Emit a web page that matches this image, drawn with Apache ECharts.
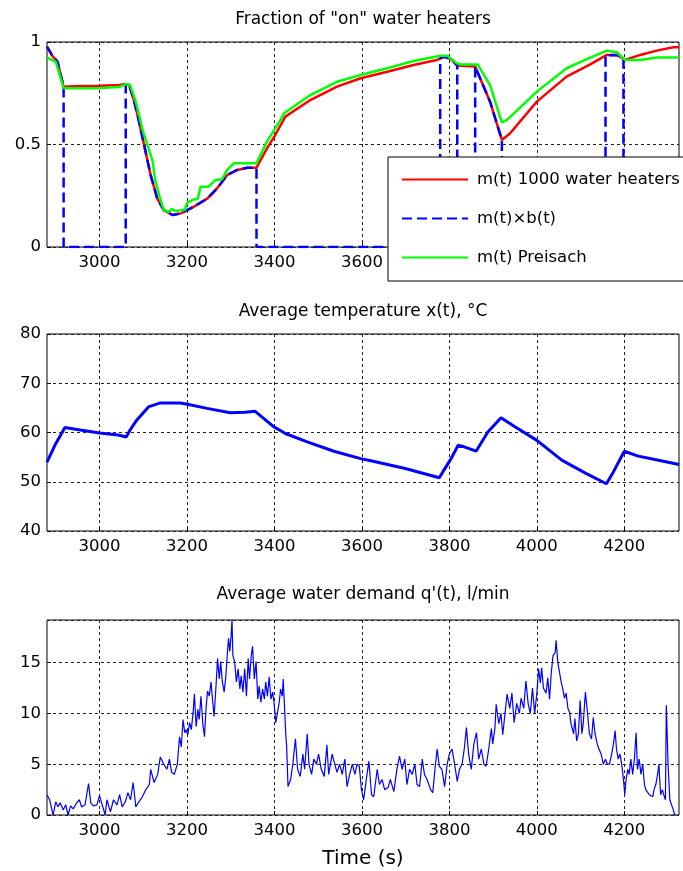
<!DOCTYPE html>
<html><head><meta charset="utf-8">
<script src="https://cdn.jsdelivr.net/npm/echarts@6/dist/echarts.min.js"></script>
<style>html,body{margin:0;padding:0;background:#fff}#c{width:683px;height:871px}</style>
</head><body><div id="c"></div>
<script>
// ---- data ----
const xTicks = [3000, 3200, 3400, 3600, 3800, 4000, 4200];
const titles = ['Fraction of "on" water heaters', 'Average temperature x(t), \u00B0C', "Average water demand q'(t), l/min"];
const legendNames = ['m(t) 1000 water heaters', 'm(t)\u00D7b(t)', 'm(t) Preisach'];

// m(t), 1000 water heaters [time, fraction]
const mHeaters = [[2880,0.977],[2893,0.93],[2904,0.904],[2918,0.782],[2960,0.785],[3000,0.787],[3045,0.79],[3060,0.795],[3068,0.79],[3078,0.72],[3087,0.644],[3102,0.498],[3117,0.351],[3132,0.237],[3147,0.18],[3167,0.156],[3186,0.164],[3216,0.197],[3247,0.237],[3269,0.286],[3292,0.351],[3315,0.376],[3338,0.387],[3359,0.387],[3383,0.481],[3400,0.54],[3425,0.636],[3482,0.717],[3543,0.782],[3597,0.823],[3658,0.855],[3718,0.888],[3771,0.912],[3787,0.928],[3800,0.92],[3806,0.912],[3818,0.885],[3821,0.88],[3859,0.88],[3893,0.709],[3920,0.522],[3939,0.555],[4000,0.709],[4068,0.831],[4122,0.891],[4160,0.937],[4183,0.937],[4202,0.912],[4236,0.937],[4274,0.958],[4312,0.974],[4325,0.974]];

// m(t) x b(t) [time, value]
const mTimesB = [[2880,0.977],[2893,0.93],[2904,0.904],[2918,0.782],[2918,0],[3060,0],[3060,0.795],[3068,0.79],[3078,0.72],[3087,0.644],[3102,0.498],[3117,0.351],[3132,0.237],[3147,0.18],[3167,0.156],[3186,0.164],[3216,0.197],[3247,0.237],[3269,0.286],[3292,0.351],[3315,0.376],[3338,0.387],[3359,0.387],[3359,0],[3779,0],[3779,0.92],[3787,0.928],[3800,0.92],[3806,0.912],[3818,0.885],[3818,0],[3859,0],[3859,0.88],[3893,0.709],[3920,0.522],[3920,0],[4157,0],[4157,0.935],[4183,0.937],[4198,0.915],[4198,0],[4325,0]];

// m(t) Preisach [time, fraction]
const mPreisach = [[2880,0.924],[2900,0.904],[2918,0.775],[3000,0.775],[3045,0.78],[3060,0.795],[3070,0.79],[3083,0.709],[3100,0.56],[3121,0.424],[3128,0.32],[3137,0.25],[3147,0.18],[3159,0.172],[3165,0.185],[3175,0.175],[3186,0.18],[3195,0.18],[3200,0.215],[3212,0.229],[3225,0.235],[3231,0.294],[3250,0.294],[3265,0.327],[3280,0.33],[3292,0.376],[3307,0.408],[3359,0.408],[3383,0.514],[3414,0.62],[3422,0.652],[3482,0.741],[3543,0.806],[3597,0.839],[3658,0.872],[3718,0.907],[3779,0.933],[3795,0.933],[3817,0.896],[3825,0.89],[3865,0.89],[3893,0.79],[3920,0.608],[3932,0.62],[4000,0.758],[4068,0.872],[4122,0.924],[4160,0.958],[4183,0.95],[4202,0.912],[4236,0.912],[4274,0.924],[4325,0.924]];

// average temperature [time, degC]
const avgTemp = [[2880,54.0],[2898,57.4],[2921,61.0],[2956,60.5],[3000,59.9],[3043,59.5],[3061,59.1],[3070,60.5],[3085,62.5],[3112,65.2],[3139,66.0],[3185,66.0],[3198,65.8],[3246,64.9],[3299,64.0],[3333,64.1],[3356,64.3],[3398,61.2],[3425,59.8],[3475,58.1],[3536,56.2],[3597,54.7],[3623,54.2],[3699,52.7],[3777,50.8],[3785,52.0],[3804,54.7],[3820,57.4],[3834,57.1],[3861,56.2],[3888,60.1],[3918,63.0],[3949,61.2],[4000,58.4],[4057,54.4],[4110,51.8],[4159,49.6],[4175,52.0],[4200,56.2],[4232,55.2],[4270,54.5],[4325,53.5]];

// average water demand [time, l/min]
const avgDemand = [[2880,2.0],[2886,1.5],[2894,0],[2900,1.3],[2905,0.8],[2910,1.2],[2917,0.5],[2923,1.0],[2928,0],[2934,0.9],[2940,0.6],[2948,1.2],[2954,1.5],[2959,0.8],[2967,1.0],[2975,3.1],[2980,1.2],[2986,0.9],[2994,1.0],[3000,1.9],[3005,1.2],[3013,0],[3017,1.5],[3025,0.3],[3032,1.5],[3040,1.0],[3046,2.0],[3052,0.8],[3059,1.3],[3065,2.2],[3071,1.5],[3077,3.2],[3083,0.8],[3090,1.3],[3098,1.8],[3106,2.5],[3114,3.0],[3117,4.5],[3125,3.2],[3133,4.0],[3139,5.7],[3147,5.0],[3154,4.5],[3160,5.5],[3165,4.2],[3171,4.0],[3178,5.0],
[3183,7.7],[3187,6.7],[3191,9.4],[3195,8.1],[3198,8.4],[3202,7.9],[3206,9.1],[3210,8.4],[3214,10.1],[3217,11.9],[3221,8.7],[3225,10.4],[3228,9.4],[3232,11.7],[3236,9.1],[3240,7.7],[3244,10.7],[3247,12.2],[3251,11.7],[3255,13.1],[3259,11.1],[3262,9.7],[3266,12.4],[3270,15.4],[3274,13.4],[3277,15.1],[3281,13.1],[3285,12.1],[3289,13.7],[3292,15.7],[3295,17.4],[3298,16.1],[3301,17.7],[3303,19.2],[3305,15.7],[3309,15.1],[3313,13.1],[3317,14.4],[3321,12.4],[3324,13.7],[3328,12.1],[3332,14.4],[3336,11.7],[3340,15.4],[3343,13.4],[3347,15.7],[3350,16.6],[3354,13.4],[3358,15.1],[3362,11.4],[3365,12.7],[3369,11.1],[3373,12.4],[3377,11.4],[3380,13.1],[3384,11.7],[3388,13.6],[3392,11.4],[3396,12.1],[3399,11.1],[3403,9.1],[3407,10.1],[3411,11.1],[3414,12.4],[3418,11.7],[3420,13.4],[3423,10.7],[3426,7.9],[3428,6.7],
[3431,2.8],[3437,3.5],[3442,5.0],[3448,7.5],[3453,4.5],[3459,3.8],[3465,6.0],[3469,4.5],[3475,8.0],[3479,5.0],[3485,4.0],[3490,5.5],[3496,5.0],[3501,6.0],[3507,4.5],[3514,3.8],[3520,6.9],[3524,4.0],[3532,6.0],[3538,5.0],[3543,4.2],[3549,5.0],[3555,4.0],[3561,5.5],[3566,2.8],[3572,4.0],[3578,5.0],[3584,4.0],[3589,5.0],[3594,4.8],[3599,2.5],[3604,1.5],[3610,3.5],[3616,5.3],[3622,2.0],[3627,1.8],[3635,4.5],[3640,3.0],[3646,3.5],[3652,2.5],[3660,2.7],[3665,3.5],[3673,2.3],[3680,4.5],[3686,5.8],[3692,4.5],[3698,5.5],[3703,3.0],[3709,4.5],[3715,4.0],[3721,5.0],[3726,3.0],[3732,2.8],[3738,5.5],[3743,4.0],[3749,3.5],[3757,2.5],[3762,2.2],[3767,4.5],[3772,6.5],[3777,4.8],[3783,4.5],[3789,2.8],[3795,5.0],[3800,6.0],[3806,6.5],[3812,5.0],[3818,3.3],[3823,4.5],[3829,5.0],[3834,6.5],[3839,8.6],[3844,6.0],[3850,4.5],[3856,7.0],[3862,8.1],[3867,5.5],[3873,6.5],[3879,5.0],[3884,4.8],[3890,6.5],[3896,8.5],[3899,7.0],[3904,8.5],[3907,10.9],[3913,9.0],[3918,10.0],[3922,7.9],[3926,9.5],[3932,11.9],[3938,10.5],[3943,12.0],[3948,9.1],[3954,11.0],[3960,10.0],[3964,11.5],[3970,10.5],[3975,13.2],[3980,11.0],[3985,10.0],[3990,12.5],[3995,10.0],[4000,12.0],[4004,14.4],[4008,13.0],[4011,14.5],[4015,12.5],[4021,12.0],[4025,13.5],[4029,11.4],[4033,14.0],[4037,15.7],[4042,16.0],[4044,17.2],[4048,15.0],[4052,14.0],[4056,13.0],[4059,12.5],[4063,11.5],[4067,12.0],[4071,10.5],[4075,10.1],[4078,9.0],[4084,8.0],[4087,9.5],[4091,7.3],[4095,8.0],[4099,11.3],[4103,8.0],[4106,9.0],[4111,12.1],[4116,10.0],[4120,8.0],[4125,7.5],[4129,9.6],[4133,8.0],[4138,7.0],[4142,6.5],[4147,6.0],[4152,5.0],[4157,5.5],[4161,5.0],[4166,5.0],[4171,6.0],[4175,7.0],[4179,8.3],[4182,6.5],[4186,5.5],[4190,6.0],[4194,5.0],[4198,3.5],[4201,2.0],[4204,3.5],[4208,4.5],[4211,4.0],[4215,5.5],[4219,4.0],[4223,5.5],[4227,8.1],[4230,4.5],[4234,5.5],[4238,4.0],[4242,5.0],[4246,3.0],[4249,2.5],[4253,2.5],[4257,2.0],[4261,2.0],[4265,1.8],[4268,2.5],[4272,3.0],[4276,4.0],[4279,5.0],[4283,2.0],[4287,2.5],[4290,2.0],[4294,1.5],[4296,10.8],[4300,5.0],[4304,1.5],[4308,1.0],[4312,0.5],[4315,0],[4320,0]];

// ---- chart ----
const FONT = 'DejaVu Sans';
const chart = echarts.init(document.getElementById('c'), null, {renderer: 'canvas'});
const gridLine = {show: true, lineStyle: {color: '#222', width: 1, type: [3, 3]}};
const plain = v => String(v);
function xAx(i) {
  return {
    type: 'value', gridIndex: i, min: 2880, max: 4325,
    axisLine: {show: false},
    axisTick: {show: true, inside: true, length: 4, lineStyle: {color: '#000'}, customValues: xTicks},
    axisLabel: {customValues: xTicks, formatter: plain, color: '#000', fontFamily: FONT, fontSize: 16.5, margin: 7},
    splitLine: gridLine
  };
}
function yAx(i, min, max, interval) {
  return {
    type: 'value', gridIndex: i, min: min, max: max, interval: interval,
    axisLine: {show: false},
    axisTick: {show: true, inside: true, length: 4, lineStyle: {color: '#000'}},
    axisLabel: {formatter: plain, color: '#000', fontFamily: FONT, fontSize: 16.5, margin: 6, showMaxLabel: max % interval === 0},
    splitLine: gridLine
  };
}
const gridBase = {left: 47, right: 4, show: true, borderColor: '#000', borderWidth: 1, backgroundColor: '#fff'};
const titleY = [20, 312, 595];
const option = {
  animation: false,
  backgroundColor: '#fff',
  textStyle: {fontFamily: FONT},
  grid: [
    Object.assign({top: 42, height: 205}, gridBase),
    Object.assign({top: 334, height: 197}, gridBase),
    Object.assign({top: 620, height: 195}, gridBase)
  ],
  xAxis: [xAx(0), xAx(1), Object.assign(xAx(2), {name: 'Time (s)', nameLocation: 'middle', nameGap: 34, nameTextStyle: {color: '#000', fontFamily: FONT, fontSize: 20}})],
  yAxis: [yAx(0, 0, 1, 0.5), yAx(1, 40, 80, 10), yAx(2, 0, 19.2, 5)],
  graphic: titles.map((t, i) => ({
    type: 'text', x: 363, y: titleY[i], z: 100,
    style: {text: t, fill: '#000', font: '17px "' + FONT + '"', textAlign: 'center', textVerticalAlign: 'middle'}
  })),
  legend: {
    data: legendNames, orient: 'vertical', left: 388, top: 157, z: 50,
    backgroundColor: '#fff', borderColor: '#000', borderWidth: 1,
    padding: [13, 10, 14, 13], itemWidth: 66, itemHeight: 19, itemGap: 20,
    itemStyle: {opacity: 0},
    textStyle: {color: '#000', fontFamily: FONT, fontSize: 16.5, lineHeight: 19, padding: [0, 0, 0, 4]}
  },
  series: [
    {name: legendNames[0], type: 'line', xAxisIndex: 0, yAxisIndex: 0, data: mHeaters, symbol: 'none', lineStyle: {color: '#ff0000', width: 2.5}, itemStyle: {color: '#ff0000'}},
    {name: legendNames[1], type: 'line', xAxisIndex: 0, yAxisIndex: 0, data: mTimesB, symbol: 'none', lineStyle: {color: '#0000ff', width: 2.5, type: [10, 5]}, itemStyle: {color: '#0000ff'}},
    {name: legendNames[2], type: 'line', xAxisIndex: 0, yAxisIndex: 0, data: mPreisach, symbol: 'none', lineStyle: {color: '#00ff00', width: 2.5}, itemStyle: {color: '#00ff00'}},
    {name: 'temp', type: 'line', xAxisIndex: 1, yAxisIndex: 1, data: avgTemp, symbol: 'none', lineStyle: {color: '#0000ff', width: 3}},
    {name: 'demand', type: 'line', xAxisIndex: 2, yAxisIndex: 2, data: avgDemand, symbol: 'none', lineStyle: {color: '#0000ff', width: 1.2}}
  ]
};
chart.setOption(option);
</script>
</body></html>
